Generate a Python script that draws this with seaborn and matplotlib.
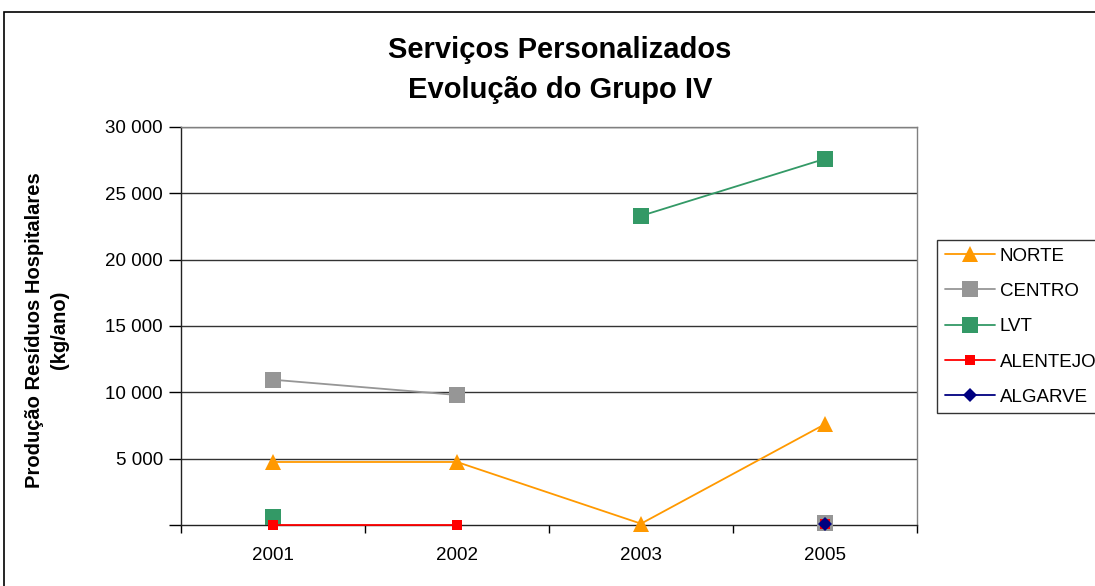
import numpy as np
import pandas as pd
import matplotlib
matplotlib.use("Agg")
import matplotlib.pyplot as plt
from matplotlib.lines import Line2D
from matplotlib.patches import Rectangle
import seaborn as sns

years = ["2001", "2002", "2003", "2005"]
norte = [4750, 4750, 100, 7600]
centro = [10950, 9800, np.nan, 150]
lvt = [600, np.nan, 23300, 27600]
alentejo = [0, 0, np.nan, 60]
algarve = [np.nan, np.nan, np.nan, 100]
series_names = ["NORTE", "CENTRO", "LVT", "ALENTEJO", "ALGARVE"]
series_values = [norte, centro, lvt, alentejo, algarve]
y_ticks = [0, 5000, 10000, 15000, 20000, 25000, 30000]
y_tick_labels = ["", "5 000", "10 000", "15 000", "20 000", "25 000", "30 000"]

styles = {
    "NORTE": dict(color="#FF9900", marker="^", ms=11),
    "CENTRO": dict(color="#969696", marker="s", ms=11),
    "LVT": dict(color="#339966", marker="s", ms=11),
    "ALENTEJO": dict(color="#FF0000", marker="s", ms=7.5),
    "ALGARVE": dict(color="#000080", marker="D", ms=7),
}

sns.set_theme(style="white")
plt.rcParams["font.family"] = ["Liberation Sans", "DejaVu Sans"]
plt.rcParams["text.color"] = "black"
plt.rcParams["axes.labelcolor"] = "black"
plt.rcParams["xtick.color"] = "black"
plt.rcParams["ytick.color"] = "black"

fig = plt.figure(figsize=(10.95, 5.86), dpi=100)
ax = fig.add_axes([181/1095, 1-525/586, (917-181)/1095, (525-127)/586])

x_pos = np.arange(len(years))
for name, vals in zip(series_names, series_values):
    st = styles[name]
    vals = np.array(vals, dtype=float)
    runs = []
    cur = []
    for i, v in enumerate(vals):
        if np.isnan(v):
            if cur:
                runs.append(cur)
            cur = []
        else:
            cur.append(i)
    if cur:
        runs.append(cur)
    for run in runs:
        df = pd.DataFrame({"x": x_pos[run], "y": vals[run]})
        sns.lineplot(data=df, x="x", y="y", ax=ax, color=st["color"], lw=1.3,
                     marker=st["marker"], markersize=st["ms"], markeredgewidth=0,
                     markeredgecolor=st["color"], clip_on=False, zorder=3)

ax.set_xlim(-0.5, 3.5)
ax.set_ylim(0, 30000)
ax.set_yticks(y_ticks)
ax.set_yticklabels(y_tick_labels, fontsize=13.5)
ax.set_xticks(x_pos)
ax.set_xticklabels(years, fontsize=13.5)
ax.set_xticks(np.arange(-0.5, 4, 1), minor=True)
ax.tick_params(axis="x", which="major", length=0, pad=16)
ax.tick_params(axis="x", which="minor", length=6, width=1, color="black", direction="out", bottom=True)
ax.tick_params(axis="y", length=9, width=1, color="black", direction="out", left=True, pad=4)
for yv in y_ticks[1:]:
    ax.axhline(yv, color="#333333", lw=1, zorder=1)
for s in ["top", "right"]:
    ax.spines[s].set_color("#808080")
    ax.spines[s].set_linewidth(1)
for s in ["left", "bottom"]:
    ax.spines[s].set_color("#222222")
    ax.spines[s].set_linewidth(1)
ax.set_xlabel("")
ax.set_ylabel("")
fig.text(47/1095, 1-330/586, "Produção Resíduos Hospitalares\n(kg/ano)", rotation=90,
         ha="center", va="center", fontsize=14.5, fontweight="bold", linespacing=1.45, multialignment="center")

fig.text(560/1095, 1-50/586, "Serviços Personalizados", ha="center", va="center", fontsize=21, fontweight="bold")
fig.text(560/1095, 1-90/586, "Evolução do Grupo IV", ha="center", va="center", fontsize=21, fontweight="bold")

handles = [Line2D([0], [0], color=styles[n]["color"], lw=1.3, marker=styles[n]["marker"],
                  markersize=styles[n]["ms"], markeredgewidth=0) for n in series_names]
leg = fig.legend(handles, series_names, loc="upper left", bbox_to_anchor=(937/1095, 1-240/586),
                 frameon=True, fontsize=13.5, fancybox=False, edgecolor="black", borderpad=0.4,
                 labelspacing=0.97, handlelength=2.7, handletextpad=0.25, borderaxespad=0)
leg.get_frame().set_linewidth(1)

fig.patches.append(Rectangle((4/1095, -0.05), 1.2, 1-12/586+0.05, transform=fig.transFigure,
                             fill=False, edgecolor="black", lw=1.2))

fig.savefig("out.png", dpi=100)
